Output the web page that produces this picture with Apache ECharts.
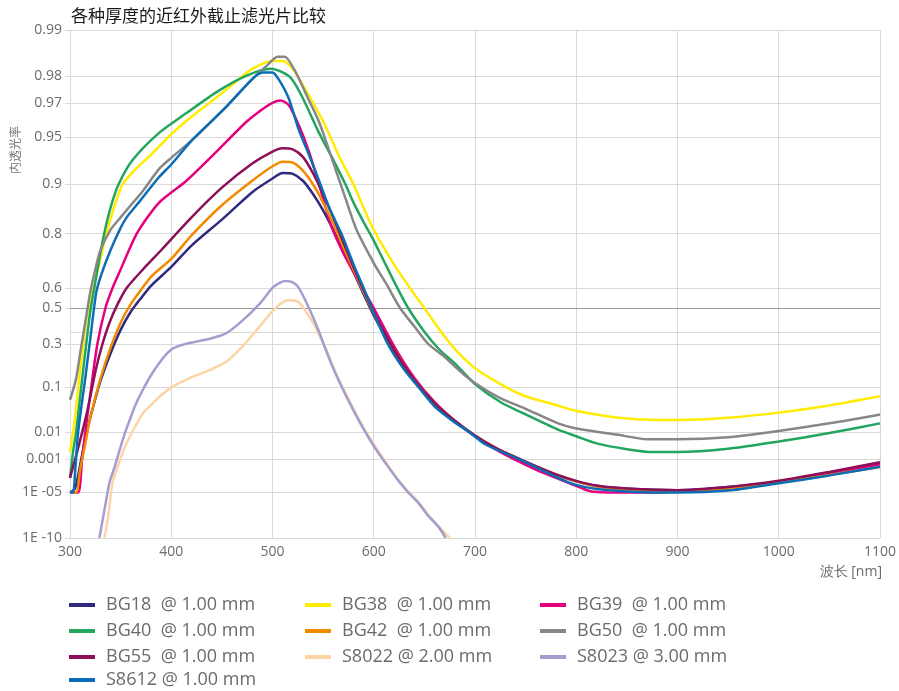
<!DOCTYPE html>
<html>
<head>
<meta charset="utf-8">
<title>各种厚度的近红外截止滤光片比较</title>
<script src="https://cdn.jsdelivr.net/npm/echarts@6/dist/echarts.min.js"></script>
<style>
  html, body { margin: 0; padding: 0; background: #fff; }
  #main { width: 899px; height: 691px; }
</style>
</head>
<body>
<div id="main"></div>
<script>
// 内透光率 [wavelength nm, transmittance]
var bg18 = [[300,1e-5],[305,2e-5],[310,5e-4],[315,0.006],[320,0.025],[330,0.12],[340,0.25],[350,0.38],[360,0.48],[370,0.55],[380,0.61],[400,0.69],[420,0.765],[450,0.835],[480,0.888],[500,0.908],[510,0.915],[520,0.914],[530,0.905],[540,0.885],[550,0.855],[560,0.81],[570,0.75],[580,0.67],[590,0.57],[600,0.46],[620,0.26],[640,0.12],[660,0.05],[680,0.02],[700,0.0075],[720,0.0028],[740,0.0011],[760,4e-4],[780,1.5e-4],[800,6e-5],[820,3e-5],[850,1.9e-5],[900,1.5e-5],[950,2.5e-5],[1000,6e-5],[1050,2e-4],[1100,6.5e-4]];
var bg38 = [[300,0.002],[303,0.01],[306,0.04],[309,0.13],[312,0.25],[316,0.43],[320,0.54],[326,0.65],[330,0.72],[335,0.79],[345,0.87],[352,0.9],[365,0.92],[380,0.935],[400,0.952],[420,0.963],[450,0.974],[480,0.982],[500,0.984],[510,0.984],[520,0.982],[530,0.977],[540,0.97],[552,0.958],[565,0.935],[580,0.9],[590,0.86],[600,0.81],[620,0.7],[640,0.57],[650,0.5],[660,0.42],[676,0.3],[690,0.22],[705,0.16],[730,0.1],[750,0.07],[780,0.048],[800,0.036],[850,0.024],[900,0.022],[950,0.025],[1000,0.033],[1050,0.047],[1100,0.07]];
var bg39 = [[300,1e-5],[308,1e-5],[312,0.001],[315,0.01],[321,0.1],[327,0.3],[335,0.5],[342,0.6],[350,0.68],[366,0.8],[388,0.87],[415,0.905],[447,0.94],[474,0.96],[490,0.967],[500,0.97],[508,0.971],[516,0.969],[526,0.958],[536,0.938],[546,0.9],[558,0.82],[570,0.74],[580,0.67],[590,0.59],[600,0.5],[620,0.29],[640,0.135],[660,0.055],[680,0.021],[700,0.0075],[720,0.0026],[740,9e-4],[760,3e-4],[780,1e-4],[800,3e-5],[815,1.2e-5],[850,1e-5],[875,1e-5],[900,1.2e-5],[950,2e-5],[1000,5.5e-5],[1050,1.7e-4],[1100,5.5e-4]];
var bg40 = [[300,1e-4],[303,0.002],[306,0.01],[312,0.13],[316,0.3],[320,0.48],[324,0.6],[328,0.7],[333,0.79],[340,0.86],[348,0.9],[362,0.93],[388,0.953],[415,0.965],[447,0.975],[474,0.98],[498,0.982],[510,0.981],[519,0.979],[530,0.972],[546,0.953],[560,0.93],[572,0.9],[580,0.87],[592,0.82],[600,0.78],[620,0.63],[634,0.5],[650,0.37],[665,0.27],[680,0.2],[700,0.11],[725,0.055],[750,0.03],[782,0.012],[800,0.0075],[821,0.0042],[850,0.0026],[875,0.002],[900,0.002],[950,0.0027],[1000,0.005],[1050,0.0095],[1100,0.018]];
var bg42 = [[300,1e-5],[306,1e-5],[310,3e-4],[315,0.004],[320,0.025],[330,0.13],[340,0.28],[350,0.42],[360,0.52],[370,0.59],[380,0.65],[400,0.72],[420,0.795],[450,0.865],[480,0.905],[500,0.923],[510,0.928],[520,0.927],[530,0.918],[540,0.9],[550,0.87],[560,0.825],[570,0.76],[580,0.68],[590,0.58],[600,0.47],[620,0.27],[640,0.125],[660,0.052],[680,0.021],[700,0.008],[720,0.003],[740,0.0012],[760,4.5e-4],[780,1.6e-4],[800,6e-5],[820,2.8e-5],[850,1.6e-5],[900,1.3e-5],[950,2e-5],[1000,5e-5],[1050,1.5e-4],[1100,4e-4]];
var bg50 = [[300,0.06],[306,0.13],[310,0.25],[315,0.42],[320,0.58],[325,0.68],[330,0.75],[340,0.81],[350,0.84],[360,0.865],[372,0.89],[388,0.92],[400,0.932],[421,0.948],[454,0.968],[480,0.979],[495,0.983],[505,0.985],[512,0.985],[523,0.981],[535,0.972],[546,0.96],[560,0.927],[572,0.878],[583,0.81],[600,0.705],[613,0.614],[626,0.5],[640,0.4],[654,0.3],[670,0.232],[685,0.164],[700,0.114],[725,0.065],[750,0.04],[782,0.018],[800,0.013],[840,0.0085],[870,0.006],[900,0.006],[950,0.007],[1000,0.011],[1050,0.018],[1100,0.03]];
var bg55 = [[300,1e-4],[307,0.002],[312,0.01],[317,0.035],[326,0.18],[332,0.3],[339,0.42],[347,0.52],[356,0.6],[372,0.68],[390,0.75],[420,0.84],[450,0.895],[480,0.926],[500,0.938],[510,0.941],[520,0.94],[530,0.933],[540,0.915],[550,0.885],[560,0.84],[570,0.775],[580,0.69],[590,0.59],[600,0.475],[620,0.27],[640,0.125],[660,0.052],[680,0.021],[700,0.008],[720,0.003],[740,0.0012],[760,4.5e-4],[780,1.6e-4],[800,6.5e-5],[820,3.2e-5],[850,2e-5],[900,1.5e-5],[950,2.5e-5],[1000,6.5e-5],[1050,2.2e-4],[1100,7e-4]];
var s8022 = [[334,1e-10],[338,1e-7],[342,4.8e-5],[349,8e-4],[356,0.0045],[364,0.014],[372,0.032],[380,0.048],[388,0.068],[401,0.1],[421,0.138],[438,0.168],[454,0.206],[470,0.285],[487,0.397],[503,0.5],[512,0.535],[518,0.54],[526,0.53],[533,0.48],[540,0.42],[546,0.35],[554,0.26],[562,0.16],[572,0.08],[582,0.033],[591,0.012],[601,0.0035],[612,7e-4],[624,8e-5],[634,1.2e-5],[644,1.7e-6],[654,9e-8],[664,4.5e-9],[675,1e-10]];
var s8023 = [[329,1e-10],[334,3e-7],[339,5e-5],[344,4e-4],[349,0.0024],[354,0.009],[359,0.022],[365,0.05],[372,0.09],[380,0.145],[388,0.2],[395,0.245],[401,0.275],[410,0.295],[421,0.31],[438,0.33],[454,0.36],[470,0.43],[487,0.52],[500,0.6],[508,0.625],[513,0.632],[520,0.625],[526,0.6],[536,0.5],[546,0.37],[554,0.25],[562,0.155],[572,0.075],[582,0.03],[591,0.011],[601,0.003],[612,6e-4],[624,7e-5],[634,1e-5],[644,1.4e-6],[654,7e-8],[664,3.6e-9],[671,1e-10]];
var s8612 = [[300,1e-5],[303,1e-5],[305,2e-4],[308,0.01],[315,0.13],[320,0.33],[326,0.58],[331,0.66],[340,0.75],[350,0.815],[356,0.84],[370,0.875],[388,0.91],[400,0.925],[421,0.948],[454,0.968],[480,0.979],[490,0.981],[500,0.981],[506,0.979],[516,0.972],[526,0.955],[536,0.935],[546,0.905],[556,0.86],[568,0.8],[580,0.7],[590,0.6],[598,0.5],[614,0.3],[630,0.17],[644,0.1],[660,0.045],[680,0.019],[693,0.011],[710,0.004],[739,0.0012],[760,4e-4],[782,1e-4],[800,3.5e-5],[820,1.8e-5],[850,1.2e-5],[880,1e-5],[900,1e-5],[950,1.4e-5],[1000,4.5e-5],[1050,1.4e-4],[1100,4.2e-4]];

var yTicks = [0.99, 0.98, 0.97, 0.95, 0.9, 0.8, 0.6, 0.5, 0.3, 0.1, 0.01, 0.001, 1e-5, 1e-10];
var yTickLabels = ['0.99', '0.98', '0.97', '0.95', '0.9', '0.8', '0.6', '0.5', '0.3', '0.1', '0.01', '0.001', '1E -05', '1E -10'];

var seriesList = [
  { name: 'BG18  @ 1.00 mm', data: bg18, color: '#2e2a80' },
  { name: 'BG38  @ 1.00 mm', data: bg38, color: '#ffec00' },
  { name: 'BG39  @ 1.00 mm', data: bg39, color: '#e5007d' },
  { name: 'BG40  @ 1.00 mm', data: bg40, color: '#22a55e' },
  { name: 'BG42  @ 1.00 mm', data: bg42, color: '#f28a00' },
  { name: 'BG50  @ 1.00 mm', data: bg50, color: '#878787' },
  { name: 'BG55  @ 1.00 mm', data: bg55, color: '#8c0f58' },
  { name: 'S8022 @ 2.00 mm', data: s8022, color: '#fdd4a6' },
  { name: 'S8023 @ 3.00 mm', data: s8023, color: '#a49dd0' },
  { name: 'S8612 @ 1.00 mm', data: s8612, color: '#0a6db6' }
];

// 内透光率坐标: v = -log10(-ln T)
function tr(t) {
  return -Math.log10(-Math.log(t));
}
var yVals = yTicks.map(tr);

var labelFont = 'Open Sans';
var gridColor = '#d9d9d9';

var series = seriesList.map(function (s, i) {
  var item = {
    name: s.name,
    type: 'line',
    data: s.data.map(function (p) { return [p[0], tr(p[1])]; }),
    showSymbol: false,
    smooth: 0.25,
    color: s.color,
    lineStyle: { color: s.color, width: 2.5 },
    z: 3
  };
  if (i === 0) {
    item.markLine = {
      silent: true,
      symbol: 'none',
      label: { show: false },
      lineStyle: { color: '#9a9a9a', width: 1, type: 'solid' },
      z: 1,
      data: [{ yAxis: tr(0.5) }]
    };
  }
  return item;
});

// 图例: 每列一个 legend, 第四行单独放
function legendCol(names, left, top) {
  return {
    orient: 'vertical',
    left: left,
    top: top,
    padding: 0,
    icon: 'rect',
    itemWidth: 26,
    itemHeight: 4,
    itemGap: 8,
    data: names,
    textStyle: { fontSize: 18, lineHeight: 17, color: '#6b6b6b', fontFamily: labelFont, padding: [0, 0, 0, 6] }
  };
}

var chart = echarts.init(document.getElementById('main'));
chart.setOption({
  animation: false,
  title: {
    text: '各种厚度的近红外截止滤光片比较',
    left: 66,
    top: 2,
    textStyle: { fontSize: 17, fontWeight: 'normal', color: '#1a1a1a', fontFamily: 'Noto Sans CJK SC' }
  },
  grid: { left: 70, right: 15, top: 30, bottom: 153 },
  xAxis: {
    type: 'value',
    min: 300,
    max: 1100,
    interval: 100,
    axisLine: { show: true, lineStyle: { color: gridColor } },
    axisTick: { show: true, length: 5, lineStyle: { color: gridColor } },
    splitLine: { show: true, lineStyle: { color: gridColor } },
    axisLabel: {
      color: '#6b6b6b',
      fontSize: 14,
      fontFamily: labelFont,
      margin: 7,
      formatter: function (val) { return String(val); }
    }
  },
  yAxis: {
    type: 'value',
    min: tr(1e-10),
    max: tr(0.99),
    axisLine: { show: true, lineStyle: { color: gridColor } },
    axisTick: { show: true, length: 5, lineStyle: { color: gridColor }, customValues: yVals },
    splitLine: { show: true, lineStyle: { color: gridColor } },
    axisLabel: {
      customValues: yVals,
      showMinLabel: true,
      showMaxLabel: true,
      color: '#6b6b6b',
      fontSize: 14,
      fontFamily: labelFont,
      margin: 8,
      formatter: function (val) {
        for (var i = 0; i < yVals.length; i++) {
          if (Math.abs(yVals[i] - val) < 1e-6) return yTickLabels[i];
        }
        return '';
      }
    }
  },
  legend: [
    legendCol(['BG18  @ 1.00 mm', 'BG40  @ 1.00 mm', 'BG55  @ 1.00 mm'], 69, 596),
    legendCol(['S8612 @ 1.00 mm'], 69, 671),
    legendCol(['BG38  @ 1.00 mm', 'BG42  @ 1.00 mm', 'S8022 @ 2.00 mm'], 305, 596),
    legendCol(['BG39  @ 1.00 mm', 'BG50  @ 1.00 mm', 'S8023 @ 3.00 mm'], 540, 596)
  ],
  graphic: [
    {
      type: 'text',
      x: 15,
      y: 150,
      rotation: Math.PI / 2,
      style: { text: '内透光率', fill: '#7a7a7a', fontSize: 12, fontFamily: 'Noto Sans CJK SC', align: 'center', verticalAlign: 'middle' }
    },
    {
      type: 'text',
      right: 17,
      top: 565,
      style: { text: '波长 [nm]', fill: '#6b6b6b', fontSize: 14, fontFamily: labelFont }
    }
  ],
  series: series
});
</script>
</body>
</html>
